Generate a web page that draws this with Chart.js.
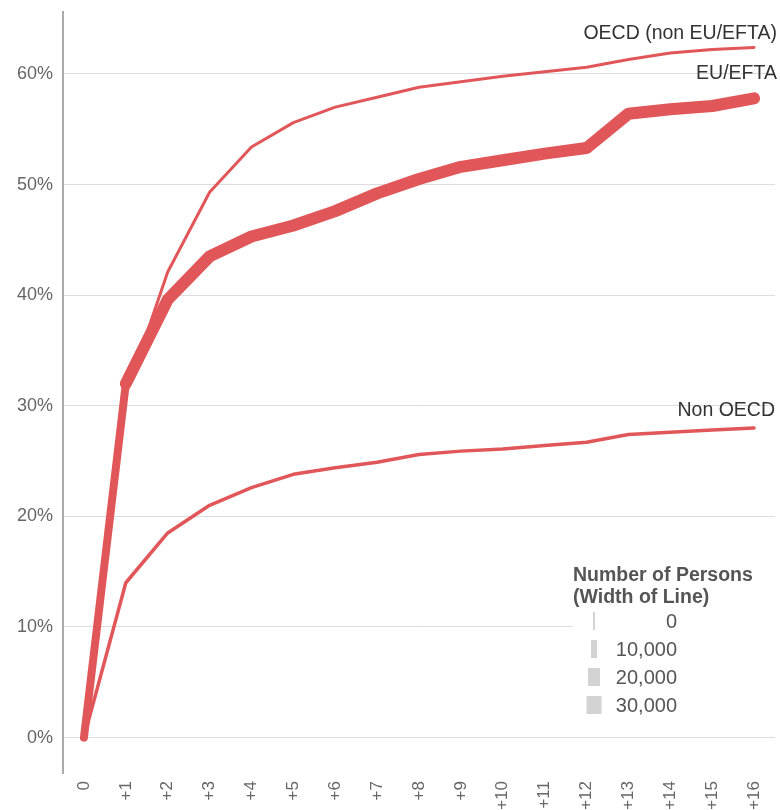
<!DOCTYPE html>
<html>
<head>
<meta charset="utf-8">
<script src="https://cdn.jsdelivr.net/npm/chart.js@4"></script>
<style>
    html, body { margin: 0; padding: 0; background: #fff; }
    #wrap { width: 780px; height: 810px; }
</style>
</head>
<body>
<div id="wrap"><canvas id="chart" width="780" height="810"></canvas></div>
<script>
// years after arrival
const years = ['0', '+1', '+2', '+3', '+4', '+5', '+6', '+7', '+8', '+9', '+10', '+11', '+12', '+13', '+14', '+15', '+16'];

// share in percent
const oecdNonEu = [0, 31.0, 42.1, 49.3, 53.4, 55.6, 57.0, 57.9, 58.8, 59.3, 59.8, 60.2, 60.6, 61.3, 61.9, 62.2, 62.4];
const euEfta = [0, 32.0, 39.6, 43.5, 45.3, 46.3, 47.6, 49.2, 50.5, 51.6, 52.2, 52.8, 53.3, 56.4, 56.8, 57.1, 57.8];
const nonOecd = [0, 14.0, 18.5, 21.0, 22.6, 23.8, 24.4, 24.9, 25.6, 25.9, 26.1, 26.4, 26.7, 27.4, 27.6, 27.8, 28.0];

const yTicks = [0, 10, 20, 30, 40, 50, 60];

const legendTitle = ['Number of Persons', '(Width of Line)'];
const legendLabels = ['0', '10,000', '20,000', '30,000'];

const RED = '#e15759';
const FONT = "'Liberation Sans', Arial, sans-serif";

// names at the end of each line
const endLabels = {
    id: 'endLabels',
    afterDatasetsDraw(chart) {
        const ctx = chart.ctx;
        ctx.save();
        ctx.font = '19.5px ' + FONT;
        ctx.fillStyle = '#333';
        ctx.textAlign = 'right';
        ctx.textBaseline = 'middle';
        chart.data.datasets.forEach((ds, i) => {
            const pts = chart.getDatasetMeta(i).data;
            const last = pts[pts.length - 1];
            ctx.fillText(ds.label, chart.chartArea.right + 2 - (ds.labelShift || 0), last.y - ds.labelOffset);
        });
        ctx.restore();
    }
};

// size legend, drawn over the plot
const sizeLegend = {
    id: 'sizeLegend',
    afterDraw(chart) {
        const ctx = chart.ctx;
        ctx.save();
        ctx.fillStyle = '#fff';
        ctx.fillRect(573, 563, 205, 160);
        ctx.font = 'bold 19.5px ' + FONT;
        ctx.fillStyle = '#555';
        ctx.textAlign = 'left';
        ctx.textBaseline = 'middle';
        ctx.fillText(legendTitle[0], 573, 576);
        ctx.fillText(legendTitle[1], 573, 598);
        const widths = [2, 6, 12, 15];
        ctx.font = '20px ' + FONT;
        ctx.textAlign = 'right';
        legendLabels.forEach((t, i) => {
            const cy = 621 + i * 28;
            ctx.fillStyle = '#d3d3d3';
            ctx.fillRect(594 - widths[i] / 2, cy - 9, widths[i], 18);
            ctx.fillStyle = '#555';
            ctx.fillText(t, 677, cy + 1);
        });
        ctx.restore();
    }
};

const baseLine = {
    borderColor: RED,
    backgroundColor: RED,
    pointRadius: 0,
    tension: 0,
    fill: false,
    borderJoinStyle: 'round',
    borderCapStyle: 'round'
};

new Chart(document.getElementById('chart'), {
    type: 'line',
    data: {
        labels: years,
        datasets: [
            { ...baseLine, label: 'OECD (non EU/EFTA)', data: oecdNonEu, borderWidth: 3, labelOffset: 14 },
            {
                ...baseLine, label: 'EU/EFTA', data: euEfta, borderWidth: 12, labelOffset: 25,
                segment: { borderWidth: c => (c.p0DataIndex === 0 ? 8 : undefined) }
            },
            { ...baseLine, label: 'Non OECD', data: nonOecd, borderWidth: 3.5, labelOffset: 17, labelShift: 2 }
        ]
    },
    options: {
        responsive: false,
        animation: false,
        layout: { padding: { top: 12, right: 5, left: 0, bottom: 0 } },
        plugins: {
            legend: { display: false },
            tooltip: { enabled: false }
        },
        scales: {
            x: {
                type: 'category',
                offset: true,
                grid: { display: false, drawTicks: false },
                border: { display: false },
                ticks: {
                    minRotation: 90,
                    maxRotation: 90,
                    autoSkip: false,
                    padding: 8,
                    color: '#666',
                    font: { family: FONT, size: 17 }
                },
                afterFit(scale) {
                    scale.height = 37;
                    scale.paddingLeft = 0;
                    scale.paddingRight = 0;
                }
            },
            y: {
                min: -3.2,
                max: 65.6,
                grid: { color: '#dcdcdc', lineWidth: 1, drawTicks: false },
                border: { display: true, color: '#aaa', width: 2 },
                afterBuildTicks(scale) {
                    scale.ticks = yTicks.map(v => ({ value: v }));
                },
                ticks: {
                    padding: 10,
                    color: '#666',
                    font: { family: FONT, size: 18 },
                    callback: v => v + '%'
                },
                afterFit(scale) {
                    scale.width = 63;
                    scale.paddingTop = 0;
                    scale.paddingBottom = 0;
                }
            }
        }
    },
    plugins: [endLabels, sizeLegend]
});
</script>
</body>
</html>
